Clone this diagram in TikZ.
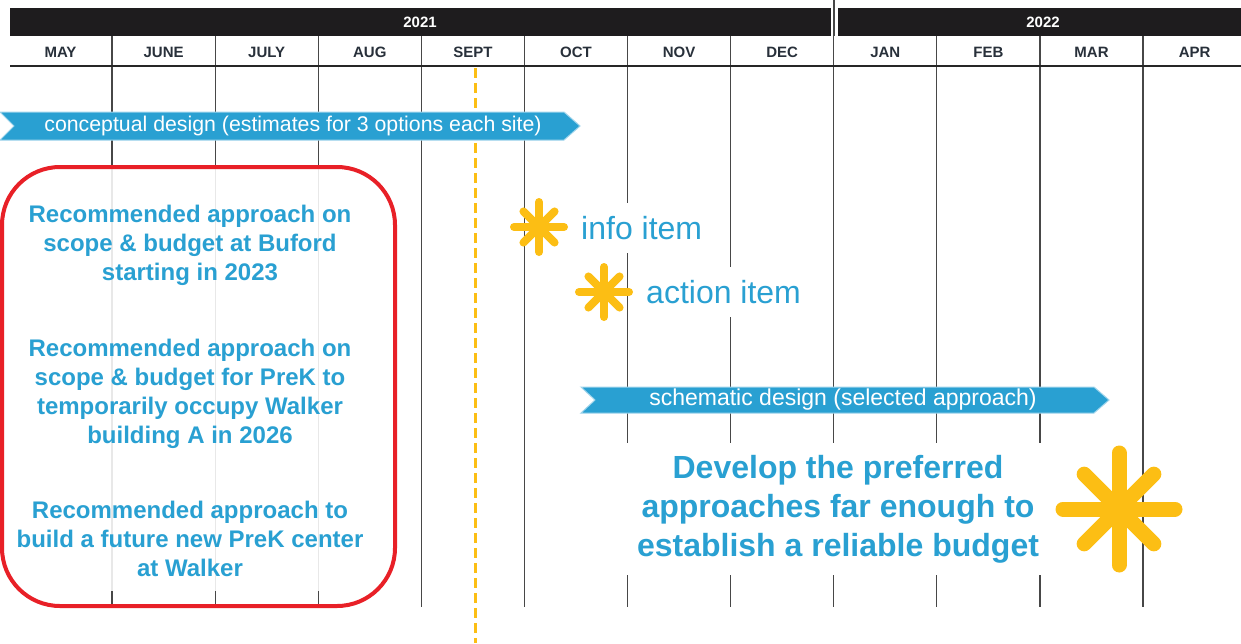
\documentclass[tikz,border=0pt]{standalone}
\usepackage{fontspec}
\setmainfont{Liberation Sans}
\usetikzlibrary{calc}

\definecolor{tlblue}{RGB}{41,160,210}
\definecolor{tlyellow}{RGB}{252,190,20}
\definecolor{tlred}{RGB}{232,32,39}
\definecolor{tlbar}{RGB}{30,28,30}
\definecolor{tlmonth}{RGB}{40,48,58}

% centre, radius, stroke width
\newcommand{\drawburst}[3]{%
  \foreach \a/\r in {0/1,45/0.88,90/1,135/0.88}
    \draw[tlyellow,line width=#3,line cap=round] ($(#1)+\r*(\a:#2)$) -- ($(#1)-\r*(\a:#2)$);}

\begin{document}
\begin{tikzpicture}[x=1pt,y=-1pt,
    month/.style={font=\bfseries\fontsize{15}{15}\selectfont,text=tlmonth},
    year/.style={font=\bfseries\fontsize{15}{15}\selectfont,text=white},
    grid/.style={black!72,line width=1.2pt},
    banner/.style={fill=tlblue,draw=tlblue!45,line width=1pt},
    bannertext/.style={text=white,font=\fontsize{21.3}{21.3}\selectfont},
    memo/.style={text=tlblue,font=\bfseries\fontsize{24}{29}\selectfont,align=center},
    legend/.style={text=tlblue,font=\fontsize{32}{32}\selectfont,fill=white,
      inner sep=9pt,minimum height=50pt,anchor=west},
    goal/.style={text=tlblue,font=\bfseries\fontsize{32}{39}\selectfont,align=center,
      fill=white,inner sep=12pt}]
	\useasboundingbox (0,0) rectangle (1241,643);

	%% years
	\fill[tlbar] (10,8) rectangle (831,36);
	\fill[tlbar] (838,8) rectangle (1241,36);
	\node[year] (y2021) at (420,22) {2021};
	\node[year] (y2022) at (1043,22) {2022};

	%% months
	\foreach \m [count=\i from 0] in {MAY,JUNE,JULY,AUG,SEPT,OCT,NOV,DEC,JAN,FEB,MAR,APR}
		\node[month] (m\i) at (60.5+103.1*\i,52) {\m};
	\foreach \k in {1,...,11}
		\draw[grid] (8.9+103.1*\k,36) -- (8.9+103.1*\k,607);
	\draw[grid] (834,0) -- (834,36);
	\draw[black!85,line width=2pt] (10,66) -- (1241,66);

	%% today
	\draw[tlyellow,line width=3pt,dash pattern=on 10pt off 5pt] (475,68) -- (475,643);

	%% recommendations box
	\begin{scope}
		\clip (0,150) rectangle (400,590);
		\fill[white,fill opacity=0.88,rounded corners=58pt] (2,167) rectangle (395,606);
	\end{scope}
	\draw[tlred,line width=4pt,rounded corners=58pt] (2,167) rectangle (395,606);
	\node[memo] (buford) at (190,245) {Recommended approach on\\scope \& budget at Buford\\starting in 2023};
	\node[memo] (prek) at (190,394) {Recommended approach on\\scope \& budget for PreK to\\temporarily occupy Walker\\building A in 2026};
	\node[memo] (walker) at (190,539) {Recommended approach to\\build a future new PreK center\\at Walker};

	%% phases
	\draw[banner] (0,112) -- (14,126) -- (0,140) -- (564,140) -- (580,126) -- (564,112) -- cycle;
	\node[bannertext] (concept) at (293,126) {conceptual design (estimates for 3 options each site)};
	\draw[banner] (581,387) -- (595,400) -- (581,413) -- (1094,413) -- (1109,400) -- (1094,387) -- cycle;
	\node[bannertext,font=\fontsize{23}{23}\selectfont] (schema) at (843,400) {schematic design (selected approach)};

	%% legend
	\node[legend] (info) at (572,228) {info item};
	\node[legend] (action) at (637,292) {action item};
	\drawburst{539,227}{25}{8pt}
	\drawburst{604,292}{25}{8pt}

	%% goal
	\node[goal] (goal) at (838,509) {Develop the preferred\\approaches far enough to\\establish a reliable budget};
	\drawburst{1119,509}{56}{15pt}

\end{tikzpicture}
\end{document}
